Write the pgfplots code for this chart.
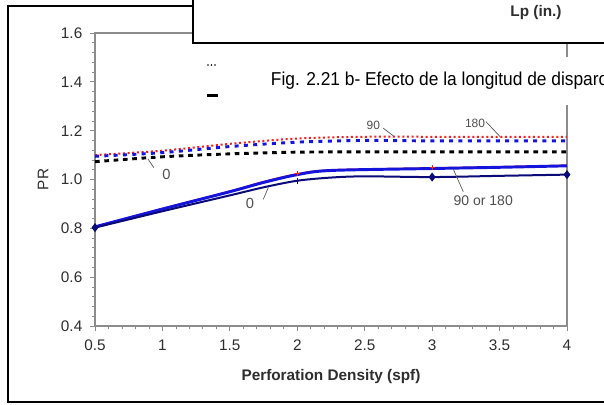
\documentclass[border=0pt]{standalone}
\usepackage{pgfplots}
\pgfplotsset{compat=1.18}
\usepackage{fontspec}
\setmainfont{Liberation Sans}
\newfontfamily\narrowfont[FakeStretch=0.93]{Liberation Sans}
\definecolor{txt}{HTML}{2E2E2E}
\definecolor{axgray}{HTML}{8C8C8C}
\definecolor{lblgray}{HTML}{505050}
\definecolor{navy}{HTML}{0A0A78}
\definecolor{pblue}{HTML}{1414DC}
\definecolor{pred}{HTML}{F01E1E}

\begin{document}
\begin{tikzpicture}
\clip (0,0) rectangle (453pt,-303pt);
\fill[white] (0,0) rectangle (453pt,-303pt);
% outer frame (pixel units, y downwards)
\begin{scope}[x=0.75pt,y=-0.75pt]
\draw[line width=1.5pt] (200,6) -- (8,6) -- (8,402) -- (640,402);
\end{scope}

\begin{axis}[
    at={(71.25pt,-244.5pt)}, anchor=south west,
    scale only axis, width=354pt, height=219.75pt,
    xmin=0.5, xmax=4, ymin=0.4, ymax=1.6,
    xtick={0.5,1,1.5,2,2.5,3,3.5,4},
    ytick={0.4,0.6,0.8,1.0,1.2,1.4,1.6},
    minor x tick num=4, minor y tick num=4,
    tick pos=left, tick align=outside,
    major tick length=3.5pt, minor tick length=2.5pt,
    axis line style={axgray, line width=0.8pt},
    every tick/.style={axgray, line width=0.6pt},
    tick label style={font=\fontsize{11.5}{13}\selectfont, text=txt},
    /pgf/number format/assume math mode=true,
    yticklabel style={/pgf/number format/fixed, /pgf/number format/fixed zerofill,
        /pgf/number format/precision=1, xshift=-2.5pt},
    xticklabel style={/pgf/number format/fixed, yshift=-3.5pt},
    xlabel={\bfseries Perforation Density (spf)},
    ylabel={PR},
    xlabel style={at={(axis description cs:0.5,-0.174)}, anchor=center,
        font=\fontsize{11.5}{13}\selectfont, text=txt},
    ylabel style={at={(axis description cs:-0.110,0.5)}, anchor=center,
        font=\fontsize{11.5}{13}\selectfont, text=txt},
    clip=false,
]
% dashed / dotted group
\addplot[pred, line width=1.5pt, dash pattern=on 1.5pt off 2pt, smooth, tension=0.5] coordinates {
    (0.5,1.100)(1,1.118)(1.5,1.146)(2,1.168)(2.5,1.175)(3,1.175)(3.5,1.175)(4,1.175)
};
\addplot[pblue, line width=2.2pt, dash pattern=on 3pt off 4pt, smooth, tension=0.5] coordinates {
    (0.5,1.095)(1,1.110)(1.5,1.135)(2,1.153)(2.5,1.160)(3,1.158)(3.5,1.158)(4,1.158)
};
\addplot[black, line width=2.2pt, dash pattern=on 3.5pt off 3.5pt, smooth, tension=0.5] coordinates {
    (0.5,1.073)(1,1.093)(1.5,1.105)(2,1.112)(2.5,1.113)(3,1.113)(3.5,1.113)(4,1.113)
};
% solid group
\addplot[pred, line width=0.8pt, smooth, tension=0.5, mark=+, mark indices={5,7},
    mark options={scale=0.9}] coordinates {
    (0.5,0.808)(1,0.882)(1.5,0.953)(1.75,0.992)(2,1.024)(2.25,1.040)(3,1.048)(3.5,1.053)(4,1.059)
};
\addplot[pblue, line width=2.2pt, smooth, tension=0.5] coordinates {
    (0.5,0.806)(1,0.879)(1.5,0.950)(1.75,0.988)(2,1.020)(2.25,1.037)(3,1.045)(3.5,1.050)(4,1.056)
};
\addplot[navy, line width=1.5pt, smooth, tension=0.5, mark=diamond*, mark indices={1,8,10},
    mark options={solid, scale=1.1}] coordinates {
    (0.5,0.803)(1,0.870)(1.5,0.935)(1.75,0.968)(2,0.995)(2.25,1.008)(2.5,1.013)(3,1.010)(3.5,1.015)(4,1.020)
};
\addplot[navy, only marks, mark=|, mark options={scale=1.2, line width=0.8pt}] coordinates {(2,0.995)};
% annotations
\draw[lblgray, line width=0.5pt] (axis cs:0.893,1.084) -- (axis cs:0.937,1.048);
\node[lblgray, font=\fontsize{11}{13}\selectfont] at (axis cs:1.03,1.020) {0};
\draw[lblgray, line width=0.5pt] (axis cs:1.748,0.919) -- (axis cs:1.785,0.967);
\node[lblgray, font=\fontsize{11}{13}\selectfont] at (axis cs:1.649,0.903) {0};
\draw[lblgray, line width=0.5pt] (axis cs:2.638,1.210) -- (axis cs:2.712,1.179);
\node[lblgray, font=\fontsize{9}{11}\selectfont] at (axis cs:2.564,1.222) {90};
\draw[lblgray, line width=0.5pt] (axis cs:3.399,1.237) -- (axis cs:3.503,1.176);
\node[lblgray, font=\fontsize{9}{11}\selectfont] at (axis cs:3.318,1.230) {180};
\draw[lblgray, line width=0.5pt] (axis cs:3.157,1.042) -- (axis cs:3.231,0.950);
\node[lblgray, font=\fontsize{10.5}{12}\selectfont] at (axis cs:3.379,0.914) {90 or 180};
\end{axis}

% overlapping legend box and caption
\begin{scope}[x=0.75pt,y=-0.75pt]
\draw[line width=1.5pt, fill=white] (193,-10) rectangle (640,43);
\node[font=\bfseries\fontsize{11.5}{13}\selectfont, text=txt] at (536,13) {Lp (in.)};
\foreach \dx in {208,211.5,215} \fill[black] (\dx,65) circle (0.9);
\fill[black] (207,93.5) rectangle (218,97);
\node[fill=white, anchor=west, inner xsep=2pt, minimum height=36pt,
    font=\narrowfont\fontsize{14}{16}\selectfont] at (268,81)
    {Fig. 2.21 b- Efecto de la longitud de disparo};
\end{scope}
\end{tikzpicture}
\end{document}
